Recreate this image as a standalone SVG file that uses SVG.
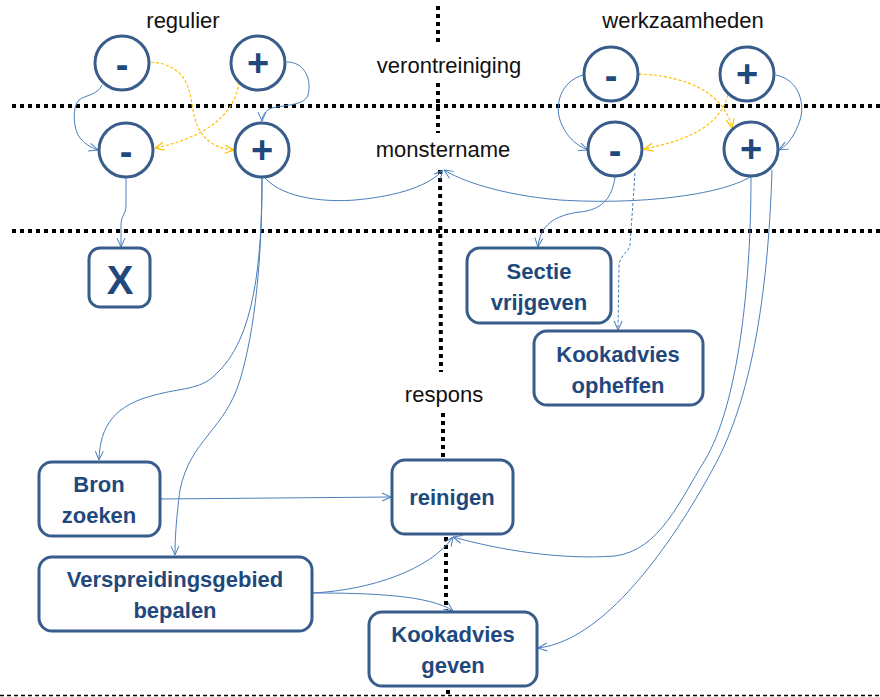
<svg xmlns="http://www.w3.org/2000/svg" width="880" height="697" viewBox="0 0 880 697">
<style>
.lbl{font-family:"Liberation Sans",Arial,sans-serif;font-size:22px;fill:#111;text-anchor:middle}
.bt{font-family:"Liberation Sans",Arial,sans-serif;font-size:22px;font-weight:bold;fill:#1f497d;text-anchor:middle}
.sg{font-family:"Liberation Sans",Arial,sans-serif;font-size:38px;font-weight:bold;fill:#1f497d;text-anchor:middle}
.c{fill:#fff;stroke:#385d8a;stroke-width:3}
.b{fill:#fff;stroke:#385d8a;stroke-width:3}
.dot{stroke:#000;stroke-width:4;stroke-dasharray:4 4;fill:none}
.e{fill:none;stroke:#4a7ebb;stroke-width:1;marker-end:url(#ab)}
.y{fill:none;stroke:#ffc000;stroke-width:1.2;stroke-dasharray:3 2;marker-end:url(#ay)}
</style>
<defs>
<marker id="ab" viewBox="0 0 10 10" refX="10" refY="5" markerWidth="10" markerHeight="10" markerUnits="userSpaceOnUse" orient="auto"><path d="M1,1 L10,5 L1,9" fill="none" stroke="#4a7ebb" stroke-width="1"/></marker>
<marker id="ay" viewBox="0 0 10 10" refX="10" refY="5" markerWidth="10" markerHeight="10" markerUnits="userSpaceOnUse" orient="auto"><path d="M1,1 L10,5 L1,9" fill="none" stroke="#ffc000" stroke-width="1.2"/></marker>
</defs>
<rect width="880" height="697" fill="#fff"/>
<g id="grid">
<line class="dot" x1="12" y1="106" x2="880" y2="106"/>
<line class="dot" x1="12" y1="231" x2="880" y2="231"/>
<line x1="0" y1="695.5" x2="880" y2="695.5" stroke="#000" stroke-width="1.5" stroke-dasharray="4 3"/>
<line class="dot" x1="438" y1="6" x2="438" y2="45"/>
<line class="dot" x1="438" y1="83" x2="438" y2="133"/>
<line class="dot" x1="440" y1="170" x2="441" y2="372"/>
<line class="dot" x1="443" y1="413" x2="443" y2="457"/>
<line class="dot" x1="446" y1="537" x2="446" y2="610"/>
<rect x="446" y="690" width="4" height="4" fill="#000"/>
</g>
<g id="labels">
<text class="lbl" x="183" y="28">regulier</text>
<text class="lbl" x="683" y="28">werkzaamheden</text>
<text class="lbl" x="449" y="73">verontreiniging</text>
<text class="lbl" x="443" y="157">monstername</text>
<text class="lbl" x="444" y="402">respons</text>
</g>
<g id="connectors">
<path class="e" d="M102,85 C98,95 85,95 79,100 C72,106 73,130 80,138 C86,145 92,148 98,150"/>
<path class="e" d="M287,62 C305,62 312,80 308,95 C304,108 275,104 268,110 C263,114 262,117 262,121"/>
<path class="y" d="M151,62 C190,65 190,95 193,110 C197,135 210,148 234,150"/>
<path class="y" d="M239,82 C235,120 195,140 155,148"/>
<path class="e" d="M126,178 L126,205 C126,215 121,215 121,225 L121,247"/>
<path class="e" d="M262,177 C262,260 255,340 215,375 C200,390 180,388 155,395 C115,405 100,425 99,460"/>
<path class="e" d="M262,177 C262,260 255,330 240,380 C225,430 190,440 180,490 C176,520 175,540 175,555"/>
<path class="e" d="M265,178 C285,200 330,202 355,200 C400,196 430,185 443,170"/>
<path class="e" d="M750,177 C720,195 640,205 560,200 C500,195 460,180 444,170"/>
<path class="e" d="M583,75 C560,82 555,105 560,120 C565,135 575,145 588,150"/>
<path class="e" d="M776,75 C800,80 805,105 800,120 C795,135 788,145 779,150"/>
<path class="y" d="M639,74 C690,76 725,95 732,128"/>
<path class="y" d="M728,95 C720,125 690,140 644,149"/>
<path class="e" d="M615,177 C612,200 600,210 580,212 C555,215 540,225 538,247"/>
<path class="e" d="M635,173 L630,245 C629,252 620,255 619,265 L618,330" stroke-dasharray="3 2"/>
<path class="e" d="M751,177 C751,300 735,410 705,460 C680,500 660,550 615,556 C560,560 500,550 453,537"/>
<path class="e" d="M772,170 C768,300 750,400 715,465 C680,530 610,640 538,648"/>
<path class="e" d="M160,499 L391,497"/>
<path class="e" d="M313,593 C370,590 430,570 453,537"/>
<path class="e" d="M313,593 C370,593 430,595 453,611"/>
</g>
<g id="n-reg-vm"><circle class="c" cx="122" cy="63" r="27"/><text class="sg" x="122" y="78">-</text></g>
<g id="n-reg-vp"><circle class="c" cx="258" cy="63" r="27"/><text class="sg" x="258" y="76">+</text></g>
<g id="n-reg-mm"><circle class="c" cx="126" cy="150" r="27"/><text class="sg" x="126" y="165">-</text></g>
<g id="n-reg-mp"><circle class="c" cx="262" cy="150" r="27"/><text class="sg" x="262" y="163">+</text></g>
<g id="n-wz-vm"><circle class="c" cx="611" cy="74" r="27"/><text class="sg" x="611" y="89">-</text></g>
<g id="n-wz-vp"><circle class="c" cx="747" cy="74" r="27"/><text class="sg" x="747" y="87">+</text></g>
<g id="n-wz-mm"><circle class="c" cx="615" cy="149" r="27"/><text class="sg" x="615" y="164">-</text></g>
<g id="n-wz-mp"><circle class="c" cx="751" cy="149" r="27"/><text class="sg" x="751" y="162">+</text></g>
<g id="n-x"><rect class="b" x="89" y="248" width="61" height="59" rx="11"/><text class="bt" x="120" y="294" style="font-size:40px">X</text></g>
<g id="n-sectie"><rect class="b" x="467" y="248" width="144" height="75" rx="13"/><text class="bt" x="539" y="279">Sectie</text><text class="bt" x="539" y="310">vrijgeven</text></g>
<g id="n-opheffen"><rect class="b" x="534" y="331" width="169" height="74" rx="13"/><text class="bt" x="618" y="362">Kookadvies</text><text class="bt" x="618" y="393">opheffen</text></g>
<g id="n-bron"><rect class="b" x="39" y="462" width="121" height="74" rx="13"/><text class="bt" x="99" y="492">Bron</text><text class="bt" x="99" y="523">zoeken</text></g>
<g id="n-versp"><rect class="b" x="39" y="557" width="273" height="74" rx="13"/><text class="bt" x="175" y="587">Verspreidingsgebied</text><text class="bt" x="175" y="618">bepalen</text></g>
<g id="n-reinigen"><rect class="b" x="392" y="460" width="121" height="74" rx="13"/><text class="bt" x="452" y="505">reinigen</text></g>
<g id="n-geven"><rect class="b" x="369" y="612" width="168" height="74" rx="13"/><text class="bt" x="453" y="642">Kookadvies</text><text class="bt" x="453" y="673">geven</text></g>
</svg>
